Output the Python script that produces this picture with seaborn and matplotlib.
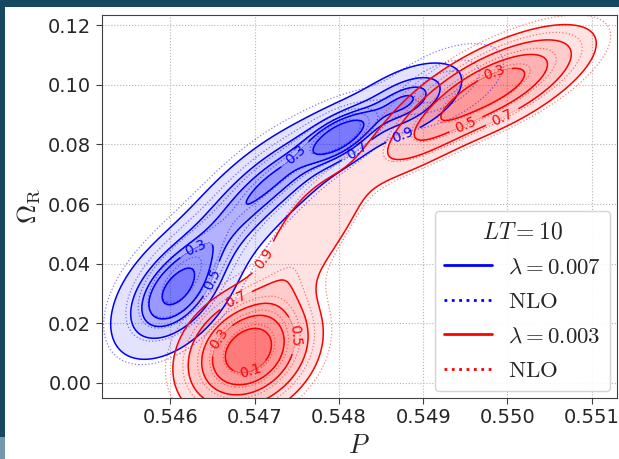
import numpy as np
import matplotlib
matplotlib.use("Agg")
import matplotlib.pyplot as plt
from matplotlib.lines import Line2D
from matplotlib.patches import Rectangle
import seaborn as sns

# posterior pieces: centre, spread, correlation, weight
# lambda = 0.007 (blue)
blue_x = [0.546051, 0.546799, 0.547513, 0.548034, 0.548784]
blue_y = [0.0303, 0.0570, 0.0743, 0.0827, 0.0944]
blue_sx = [0.000400, 0.000459, 0.000448, 0.000265, 0.000382]
blue_sy = [0.01182, 0.01290, 0.01036, 0.00576, 0.00733]
blue_rho = [0.475, 0.676, 0.683, 0.533, 0.537]
blue_w = [0.36, 0.22, 0.16, 0.10, 0.16]
# NLO version of the blue set
blue_nlo_x = [0.546060, 0.546815, 0.547535, 0.548070, 0.549200]
blue_nlo_y = [0.0312, 0.0581, 0.0755, 0.0840, 0.0994]

# lambda = 0.003 (red)
red_x = [0.546920, 0.547478, 0.548000, 0.549851, 0.549050]
red_y = [0.0105, 0.0442, 0.0580, 0.0994, 0.0840]
red_sx = [0.000404, 0.000356, 0.000450, 0.000592, 0.000402]
red_sy = [0.01068, 0.01670, 0.01600, 0.01024, 0.00869]
red_rho = [0.25, 0.65, 0.75, 0.694, 0.733]
red_w = [0.47, 0.07, 0.05, 0.34, 0.07]
# NLO version of the red set
red_nlo_x = [0.546925, 0.547500, 0.548030, 0.549900, 0.549100]
red_nlo_y = [0.0107, 0.0448, 0.0590, 0.1005, 0.0850]

nlo_widen = 1.12
probs = [0.1, 0.3, 0.5, 0.7, 0.9]

# where the contour labels sit in the reference
blue_label_at = [(0.54630, 0.0454), (0.54649, 0.0349), (0.54750, 0.0760),
                 (0.54822, 0.0777), (0.54875, 0.0840)]
red_label_at = [(0.54694, 0.0052), (0.54655, 0.0154), (0.54750, 0.0160),
                (0.54676, 0.0287), (0.54712, 0.0417), (0.54988, 0.1011),
                (0.54950, 0.0871), (0.54993, 0.0897)]


def density(xx, yy, mx, my, sx, sy, rho, w, widen=1.0):
    z = np.zeros_like(xx)
    for cx, cy, a, b, r, wt in zip(mx, my, sx, sy, rho, w):
        a, b = a * widen, b * widen
        dx = (xx - cx) / a
        dy = (yy - cy) / b
        q = (dx * dx - 2 * r * dx * dy + dy * dy) / (1 - r * r)
        z += wt * np.exp(-0.5 * q) / (2 * np.pi * a * b * np.sqrt(1 - r * r))
    return z


def mass_levels(z):
    # density value that encloses a given probability mass
    flat = np.sort(z.ravel())[::-1]
    cum = np.cumsum(flat)
    cum /= cum[-1]
    return [flat[np.searchsorted(cum, p)] for p in probs]


gx = np.linspace(0.5440, 0.5525, 400)
gy = np.linspace(-0.04, 0.15, 400)
X, Y = np.meshgrid(gx, gy)

sns.set_style("ticks", {"axes.grid": True, "grid.linestyle": ":", "grid.color": "#b5b5b5",
                        "axes.edgecolor": "#404040"})
plt.rcParams["mathtext.fontset"] = "cm"
plt.rcParams["font.family"] = ["DejaVu Sans"]

fig = plt.figure(figsize=(6.19, 4.59), dpi=100)
fig.patch.set_facecolor("#174862")
fig.add_artist(Rectangle((5 / 619, 0), 1, 1 - 7 / 459, transform=fig.transFigure,
                         facecolor="white", edgecolor="none", zorder=-10))
fig.add_artist(Rectangle((0, 0), 5 / 619, 22 / 459, transform=fig.transFigure,
                         facecolor="#7497ab", edgecolor="none", zorder=-10))
ax = fig.add_axes([0.1643, 0.1335, 0.8325, 0.8345])

fill_alpha = [0.11, 0.20, 0.30, 0.40, 0.52]

sets = [
    ((0, 0, 1), blue_x, blue_y, blue_nlo_x, blue_nlo_y, blue_sx, blue_sy, blue_rho, blue_w, blue_label_at),
    ((1, 0, 0), red_x, red_y, red_nlo_x, red_nlo_y, red_sx, red_sy, red_rho, red_w, red_label_at),
]

for rgb, mx, my, nx, ny, sx, sy, rho, w, label_at in sets:
    z = density(X, Y, mx, my, sx, sy, rho, w)
    lev = mass_levels(z)[::-1]
    ax.contourf(X, Y, z, levels=lev + [z.max() * 1.01],
                colors=[rgb + (a,) for a in fill_alpha])
    cs = ax.contour(X, Y, z, levels=lev, colors=[rgb], linewidths=1.1)
    ax.clabel(cs, fmt={l: f"{p:.1f}" for l, p in zip(lev, probs[::-1])},
              fontsize=10, inline=True, inline_spacing=2, manual=label_at)
    zn = density(X, Y, nx, ny, sx, sy, rho, w, widen=nlo_widen)
    ax.contour(X, Y, zn, levels=mass_levels(zn)[::-1], colors=[rgb + (0.5,)],
               linewidths=0.9, linestyles=":")

ax.set_xlim(0.545184, 0.5513)
ax.set_ylim(-0.0050, 0.12354)
ax.set_xticks([0.546, 0.547, 0.548, 0.549, 0.550, 0.551])
ax.set_yticks([0.00, 0.02, 0.04, 0.06, 0.08, 0.10, 0.12])
ax.xaxis.set_major_formatter(matplotlib.ticker.FormatStrFormatter("%.3f"))
ax.yaxis.set_major_formatter(matplotlib.ticker.FormatStrFormatter("%.2f"))
ax.tick_params(labelsize=14, length=4, color="#404040")
ax.set_xlabel(r"$P$", fontsize=19)
ax.set_ylabel(r"$\Omega_{\rm R}$", fontsize=19)

handles = [
    Line2D([], [], color="blue", lw=2),
    Line2D([], [], color="blue", lw=2, ls=":"),
    Line2D([], [], color="red", lw=2),
    Line2D([], [], color="red", lw=2, ls=":"),
]
labels = [r"$\lambda=0.007$", r"$\mathrm{NLO}$", r"$\lambda=0.003$", r"$\mathrm{NLO}$"]
ax.legend(handles, labels, title=r"$LT=10$", loc="lower right", fontsize=16.5,
          title_fontsize=17, handlelength=2.1, handletextpad=0.7, borderaxespad=0.3,
          edgecolor="#d0d0d0", framealpha=0.9)

fig.savefig("out.png", dpi=100, facecolor=fig.get_facecolor())
